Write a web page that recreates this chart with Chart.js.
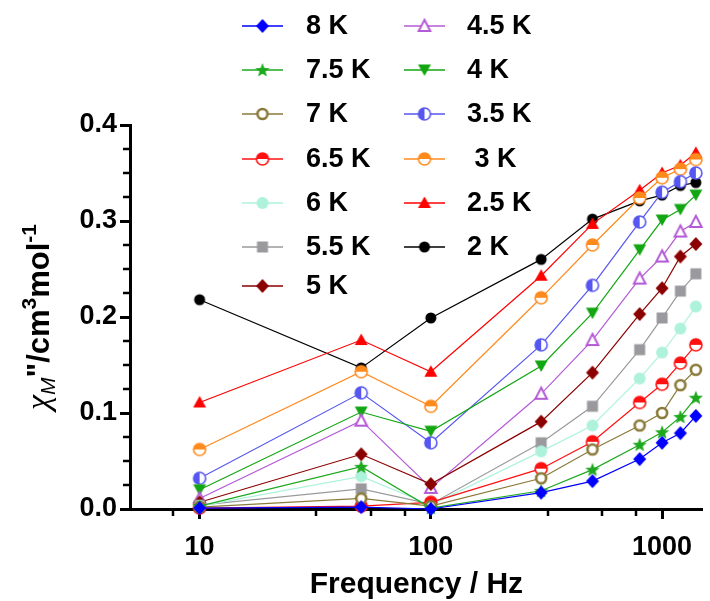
<!DOCTYPE html>
<html>
<head>
<meta charset="utf-8">
<script src="https://cdn.jsdelivr.net/npm/chart.js@4.4.1/dist/chart.umd.min.js"></script>
<style>
  html, body { margin: 0; padding: 0; background: #fff; }
</style>
</head>
<body>
<canvas id="myChart" width="710" height="601"></canvas>
<script>

// frequencies (Hz) and chi'' values (cm3/mol) per temperature
const freqs = [10, 50, 100, 300, 500, 800, 1000, 1200, 1400]

const chi8K   = [0.001, 0.002, 0.000, 0.017, 0.029, 0.052, 0.069, 0.079, 0.097]
const chi7_5K = [0.003, 0.044, 0.001, 0.019, 0.041, 0.067, 0.080, 0.096, 0.116]
const chi7K   = [0.002, 0.011, 0.003, 0.032, 0.062, 0.087, 0.100, 0.129, 0.145]
const chi6_5K = [0.001, 0.003, 0.007, 0.042, 0.070, 0.111, 0.130, 0.152, 0.171]
const chi6K   = [0.003, 0.034, 0.004, 0.060, 0.087, 0.136, 0.163, 0.188, 0.211]
const chi5_5K = [0.004, 0.021, 0.005, 0.069, 0.107, 0.166, 0.199, 0.227, 0.245]
const chi5K   = [0.007, 0.057, 0.026, 0.091, 0.142, 0.203, 0.230, 0.263, 0.276]
const chi4_5K = [0.011, 0.092, 0.022, 0.120, 0.176, 0.240, 0.263, 0.289, 0.299]
const chi4K   = [0.020, 0.101, 0.081, 0.149, 0.204, 0.270, 0.301, 0.312, 0.327]
const chi3_5K = [0.032, 0.121, 0.069, 0.171, 0.233, 0.299, 0.330, 0.341, 0.350]
const chi3K   = [0.062, 0.143, 0.107, 0.220, 0.275, 0.324, 0.345, 0.354, 0.364]
const chi2_5K = [0.111, 0.176, 0.143, 0.243, 0.297, 0.332, 0.350, 0.358, 0.371]
const chi2K   = [0.218, 0.147, 0.199, 0.260, 0.302, 0.321, 0.327, 0.337, 0.340]

const seriesLabels = ['8 K', '7.5 K', '7 K', '6.5 K', '6 K', '5.5 K', '5 K',
                      '4.5 K', '4 K', '3.5 K', ' 3 K', '2.5 K', '2 K']
const seriesValues = [chi8K, chi7_5K, chi7K, chi6_5K, chi6K, chi5_5K, chi5K,
                      chi4_5K, chi4K, chi3_5K, chi3K, chi2_5K, chi2K]

const xTickLabels = [10, 100, 1000]
const yTickLabels = [0, 0.1, 0.2, 0.3, 0.4]

// look of each series: colour + marker kind
const seriesColors = ['#0000ff', '#1ea81e', '#8a7a3a', '#ff1010', '#aef2dc', '#9a9a9e', '#8b0000',
                      '#b45ad6', '#12a612', '#5656f0', '#ff8a1c', '#ff0000', '#000000']
const seriesMarkers = ['diamond', 'star', 'ring', 'halfTop', 'dot', 'square', 'diamond',
                       'openTri', 'triDown', 'halfLeft', 'halfTop', 'triUp', 'dotSmall']

const FONT = '"Liberation Sans", Arial, sans-serif'
Chart.defaults.font.family = FONT
Chart.defaults.color = '#000'

let marker = (kind, color) => {
  const c = document.createElement('canvas')
  c.width = 18
  c.height = 18
  const g = c.getContext('2d')
  const m = 9
  g.fillStyle = color
  g.strokeStyle = color
  let poly = (pts) => {
    g.beginPath()
    pts.forEach((p, i) => i ? g.lineTo(p[0], p[1]) : g.moveTo(p[0], p[1]))
    g.closePath()
  }
  if (kind === 'diamond') {
    poly([[m, 2], [m + 6.5, m], [m, 16], [m - 6.5, m]])
    g.fill()
  } else if (kind === 'star') {
    const pts = []
    for (let k = 0; k < 10; k++) {
      const r = k % 2 ? 3.2 : 7.5
      const a = -Math.PI / 2 + k * Math.PI / 5
      pts.push([m + r * Math.cos(a), m + 0.5 + r * Math.sin(a)])
    }
    poly(pts)
    g.fill()
  } else if (kind === 'ring') {
    g.beginPath(); g.arc(m, m, 5, 0, Math.PI * 2)
    g.fillStyle = '#fff'; g.fill()
    g.lineWidth = 2.6; g.stroke()
  } else if (kind === 'halfTop' || kind === 'halfLeft') {
    g.beginPath(); g.arc(m, m, 6, 0, Math.PI * 2)
    g.fillStyle = '#fff'; g.fill()
    g.save()
    g.beginPath()
    if (kind === 'halfTop') g.rect(0, 0, 18, m)
    else g.rect(0, 0, m, 18)
    g.clip()
    g.beginPath(); g.arc(m, m, 6, 0, Math.PI * 2)
    g.fillStyle = color; g.fill()
    g.restore()
    g.beginPath(); g.arc(m, m, 6, 0, Math.PI * 2)
    g.lineWidth = 1.6; g.stroke()
  } else if (kind === 'dot') {
    g.beginPath(); g.arc(m, m, 6, 0, Math.PI * 2); g.fill()
  } else if (kind === 'dotSmall') {
    g.beginPath(); g.arc(m, m, 5.5, 0, Math.PI * 2); g.fill()
  } else if (kind === 'square') {
    g.fillRect(m - 5.5, m - 5.5, 11, 11)
  } else if (kind === 'openTri') {
    poly([[m, 2.8], [m + 5.8, 14], [m - 5.8, 14]])
    g.fillStyle = '#fff'; g.fill()
    g.lineWidth = 2; g.lineJoin = 'miter'; g.stroke()
  } else if (kind === 'triDown') {
    poly([[m - 6.5, 3.5], [m + 6.5, 3.5], [m, 15]])
    g.fill()
  } else if (kind === 'triUp') {
    poly([[m, 2.5], [m + 6.5, 14], [m - 6.5, 14]])
    g.fill()
  }
  return c
}

// legend drawn inside the plot, two columns like the original
const legendRowY = [26, 70, 114, 159, 203, 247, 286]
const legendPlugin = {
  id: 'twoColLegend',
  afterDraw(chart) {
    const ctx = chart.ctx
    ctx.save()
    chart.data.datasets.forEach((ds, i) => {
      const col = i < 7 ? 0 : 1
      const y = legendRowY[i < 7 ? i : i - 7]
      const x0 = col ? 404 : 242
      ctx.strokeStyle = ds.borderColor
      ctx.lineWidth = 1.5
      ctx.beginPath(); ctx.moveTo(x0, y); ctx.lineTo(x0 + 41, y); ctx.stroke()
      const img = ds.pointStyle
      ctx.drawImage(img, x0 + 20.5 - img.width / 2, y - img.height / 2)
      ctx.fillStyle = '#000'
      ctx.font = 'bold 27px ' + FONT
      ctx.textBaseline = 'middle'
      ctx.textAlign = 'left'
      ctx.fillText(ds.label, col ? 467 : 306, y + 1)
    })
    ctx.restore()
  }
}

// minor ticks + axis titles
const xMinor = [7.7, 32, 55, 77, 320, 550, 770]
const yMinor = []
for (let v = 0.025; v < 0.4; v += 0.025) {
  if (Math.abs(v * 10 - Math.round(v * 10)) > 0.01) yMinor.push(v)
}

const yTitle = [
  { t: 'χ', font: 'italic 34px "Liberation Serif"', dy: 0 },
  { t: 'M', font: 'italic 21px ' + FONT, dy: 6 },
  { t: '"', font: 'bold 31px ' + FONT, dy: 0 },
  { t: '/cm', font: 'bold 31px ' + FONT, dy: 0 },
  { t: '3', font: 'bold 21px ' + FONT, dy: -13 },
  { t: 'mol', font: 'bold 31px ' + FONT, dy: 0 },
  { t: '-1', font: 'bold 21px ' + FONT, dy: -13 }
]

const decorPlugin = {
  id: 'decor',
  afterDraw(chart) {
    const { ctx, scales: { x, y }, chartArea } = chart
    ctx.save()
    ctx.strokeStyle = '#000'
    ctx.lineWidth = 2.5
    ctx.beginPath()
    xMinor.forEach(v => {
      const px = Math.round(x.getPixelForValue(v))
      ctx.moveTo(px, chartArea.bottom)
      ctx.lineTo(px, chartArea.bottom + 7)
    })
    yMinor.forEach(v => {
      const py = Math.round(y.getPixelForValue(v))
      ctx.moveTo(chartArea.left, py)
      ctx.lineTo(chartArea.left - 7, py)
    })
    ctx.stroke()

    ctx.fillStyle = '#000'
    ctx.font = 'bold 30px ' + FONT
    ctx.textAlign = 'center'
    ctx.textBaseline = 'middle'
    ctx.fillText('Frequency / Hz', (chartArea.left + chartArea.right) / 2, 585)

    // rotated y title with sub/superscripts
    ctx.textAlign = 'left'
    ctx.textBaseline = 'alphabetic'
    let total = 0
    yTitle.forEach(p => { ctx.font = p.font; total += ctx.measureText(p.t).width })
    ctx.translate(49, (chartArea.top + chartArea.bottom) / 2)
    ctx.rotate(-Math.PI / 2)
    let cx = -total / 2
    yTitle.forEach(p => {
      ctx.font = p.font
      ctx.fillText(p.t, cx, p.dy)
      cx += ctx.measureText(p.t).width
    })
    ctx.restore()
  }
}

const datasets = seriesValues.map((vals, i) => ({
  label: seriesLabels[i],
  data: freqs.map((f, k) => ({ x: f, y: vals[k] })),
  borderColor: seriesColors[i],
  backgroundColor: seriesColors[i],
  borderWidth: 1.2,
  pointStyle: marker(seriesMarkers[i], seriesColors[i]),
  pointRadius: 6,
  pointHoverRadius: 6,
  tension: 0,
  fill: false,
  clip: false
}))

const tickFont = { family: FONT, size: 27, weight: 'bold' }
const axisGrid = { drawOnChartArea: false, drawTicks: true, tickLength: 10, tickWidth: 3, tickColor: '#000' }

const config = {
  type: 'line',
  data: { datasets: datasets },
  options: {
    responsive: false,
    animation: false,
    devicePixelRatio: 1,
    layout: { padding: { top: 125, right: 0, left: 0, bottom: 0 } },
    plugins: { legend: { display: false }, tooltip: { enabled: false } },
    scales: {
      x: {
        type: 'logarithmic',
        min: 5,
        max: 1500,
        border: { display: true, width: 3, color: '#000' },
        grid: axisGrid,
        ticks: { font: tickFont, color: '#000', padding: 12, autoSkip: false, maxRotation: 0,
                 callback: v => String(v) },
        afterBuildTicks: s => { s.ticks = xTickLabels.map(v => ({ value: v })) },
        afterFit: s => { s.height = 92 }
      },
      y: {
        type: 'linear',
        min: 0,
        max: 0.4,
        border: { display: true, width: 3, color: '#000' },
        grid: axisGrid,
        ticks: { font: tickFont, color: '#000', padding: 3, callback: v => v.toFixed(1) },
        afterBuildTicks: s => { s.ticks = yTickLabels.map(v => ({ value: v })) },
        afterFit: s => { s.width = 130 }
      }
    }
  },
  plugins: [legendPlugin, decorPlugin]
}

const chart = new Chart(document.getElementById('myChart'), config)

</script>
</body>
</html>
